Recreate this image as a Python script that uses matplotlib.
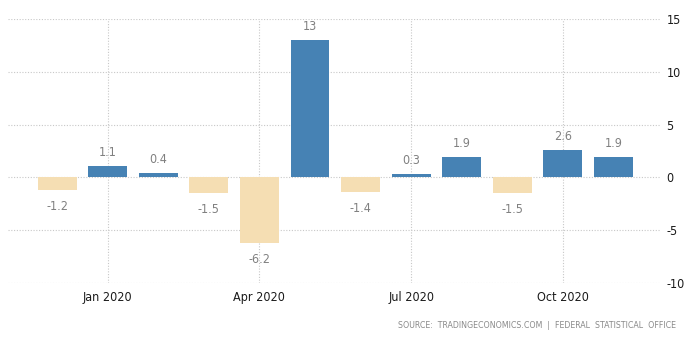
import matplotlib
matplotlib.use("Agg")
import matplotlib.pyplot as plt
from matplotlib import font_manager

months = ["Dec 2019", "Jan 2020", "Feb 2020", "Mar 2020", "Apr 2020", "May 2020",
          "Jun 2020", "Jul 2020", "Aug 2020", "Sep 2020", "Oct 2020", "Nov 2020"]
values = [-1.2, 1.1, 0.4, -1.5, -6.2, 13, -1.4, 0.3, 1.9, -1.5, 2.6, 1.9]
value_labels = ["-1.2", "1.1", "0.4", "-1.5", "-6.2", "13", "-1.4", "0.3", "1.9", "-1.5", "2.6", "1.9"]
tick_months = ["Jan 2020", "Apr 2020", "Jul 2020", "Oct 2020"]
y_ticks = [-10, -5, 0, 5, 10, 15]
source_text = "SOURCE:  TRADINGECONOMICS.COM  |  FEDERAL  STATISTICAL  OFFICE"

names = {f.name for f in font_manager.fontManager.ttflist}
condensed = [f for f in font_manager.fontManager.ttflist
             if f.name == "DejaVu Sans" and f.stretch == "condensed"]
if "Liberation Sans Narrow" in names:
    family = ["Liberation Sans Narrow", "DejaVu Sans"]
    stretch = "normal"
elif condensed:
    family = ["DejaVu Sans"]
    stretch = "condensed"
else:
    family = ["Liberation Sans", "DejaVu Sans"]
    stretch = "normal"
plt.rcParams["font.family"] = family
plt.rcParams["font.stretch"] = stretch

BLUE = "#4682b4"
TAN = "#f5deb3"

fig = plt.figure(figsize=(6.86, 3.37), dpi=100)
ax = fig.add_axes([0.0117, 0.1602, 0.9519, 0.7834])

x = list(range(len(months)))
colors = [BLUE if v >= 0 else TAN for v in values]
ax.bar(x, values, width=0.77, color=colors, zorder=3)

for xi, v, lab in zip(x, values, value_labels):
    if v >= 0:
        ax.annotate(lab, (xi, v), xytext=(0, 5), textcoords="offset points",
                    ha="center", va="bottom", fontsize=9, color="#808080")
    else:
        ax.annotate(lab, (xi, v), xytext=(0, -7), textcoords="offset points",
                    ha="center", va="top", fontsize=9, color="#808080")

ax.set_xlim(-0.97, 11.94)
ax.set_ylim(-10, 15)
ax.set_xticks([months.index(m) for m in tick_months])
ax.set_xticklabels(tick_months, fontsize=9, color="#1a1a1a")
ax.set_yticks(y_ticks)
ax.set_yticklabels([str(t) for t in y_ticks], fontsize=9, color="#1a1a1a")
ax.yaxis.tick_right()
ax.tick_params(axis="both", length=0, pad=6)
ax.tick_params(axis="y", pad=4)

ax.grid(True, color="#c8c8c8", linestyle=(0, (1, 1.5)), linewidth=0.8, zorder=0)
for s in ax.spines.values():
    s.set_visible(False)

fig.text(0.985, 0.035, source_text, ha="right", va="center", fontsize=6.3, color="#8a8a8a")

fig.savefig("out.png", dpi=100)
